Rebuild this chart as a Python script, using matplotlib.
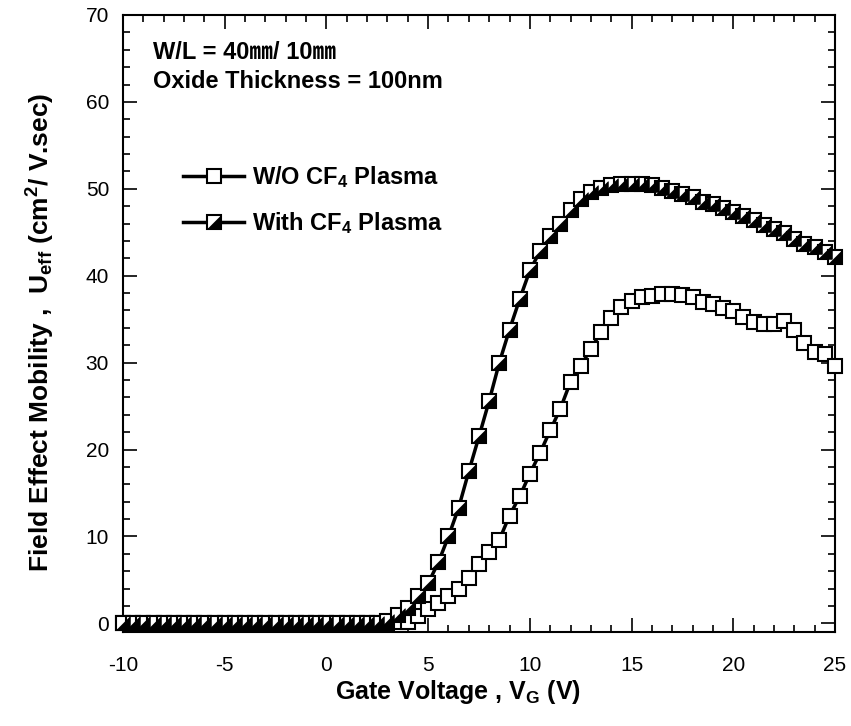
import numpy as np
import matplotlib
matplotlib.use('Agg')
import matplotlib.pyplot as plt
from matplotlib.legend_handler import HandlerTuple
from matplotlib.ticker import MultipleLocator

plt.rcParams['font.family'] = ['Liberation Sans', 'Noto Sans CJK KR', 'DejaVu Sans']
plt.rcParams['mathtext.fontset'] = 'custom'
plt.rcParams['mathtext.rm'] = 'Liberation Sans:bold'
plt.rcParams['mathtext.it'] = 'Liberation Sans:bold'
plt.rcParams['mathtext.bf'] = 'Liberation Sans:bold'
plt.rcParams['axes.unicode_minus'] = False

# gate voltage sweep (V)
gate_v = np.arange(-10, 25.01, 0.5)

# mobility without CF4 plasma (cm2/V.sec)
mob_wo = [0.0] * 26 + [
    0.0, 0.1, 0.2, 0.8, 1.6, 2.3, 3.1, 4.0, 5.2, 6.8,
    8.2, 9.6, 12.4, 14.6, 17.2, 19.6, 22.2, 24.7, 27.8, 29.6,
    31.6, 33.5, 35.1, 36.4, 37.1, 37.5, 37.7, 37.9, 37.9, 37.8,
    37.5, 37.0, 36.8, 36.3, 35.9, 35.3, 34.7, 34.4, 34.5, 34.8,
    33.8, 32.3, 31.2, 31.0, 29.6]

# mobility with CF4 plasma
mob_cf4 = [0.0] * 26 + [
    0.3, 0.9, 1.8, 3.1, 4.6, 7.0, 10.0, 13.3, 17.5, 21.5,
    25.6, 30.0, 33.8, 37.3, 40.6, 42.8, 44.6, 46.0, 47.6, 48.8,
    49.6, 50.1, 50.4, 50.6, 50.6, 50.5, 50.4, 50.1, 49.8, 49.4,
    49.1, 48.5, 48.2, 47.8, 47.3, 46.9, 46.4, 45.8, 45.4, 44.9,
    44.2, 43.7, 43.3, 42.7, 42.2]

half_tri = [(-1, -1), (1, -1), (1, 1), (-1, -1)]

fig = plt.figure(figsize=(8.51, 7.26), dpi=100)
ax = fig.add_axes([123 / 851, (726 - 632) / 726, 712 / 851, 617 / 726])

l1, = ax.plot(gate_v, mob_wo, color='k', lw=2.5, marker='s', ms=9.8,
              mfc='white', mec='k', mew=1.5, clip_on=False, zorder=3)
l2, = ax.plot(gate_v, mob_cf4, color='k', lw=2.5, marker='s', ms=9.8,
              mfc='white', mec='k', mew=1.5, clip_on=False, zorder=4)
t2, = ax.plot(gate_v, mob_cf4, ls='none', marker=half_tri, ms=9.8,
              mfc='k', mec='k', mew=0.5, clip_on=False, zorder=5)

ax.set_xlim(-10, 25)
ax.set_ylim(-1, 70)
ax.xaxis.set_major_locator(MultipleLocator(5))
ax.xaxis.set_minor_locator(MultipleLocator(1))
ax.yaxis.set_major_locator(MultipleLocator(10))
ax.yaxis.set_minor_locator(MultipleLocator(2))
ax.tick_params(which='both', direction='in', top=True, right=True, width=1.2)
ax.tick_params(which='major', length=10)
ax.tick_params(which='minor', length=5)
ax.tick_params(axis='x', labelsize=15, pad=17)
ax.tick_params(axis='y', labelsize=15, pad=10)
for s in ax.spines.values():
    s.set_linewidth(1.5)

ax.set_xlabel('Gate Voltage , V$_{\\mathrm{G}}$ (V)', fontsize=18, fontweight='bold')
ax.xaxis.set_label_coords(0.47, -0.075)
ax.set_ylabel('Field Effect Mobility ,  U$_{\\mathrm{eff}}$ (cm$^{\\mathrm{2}}$/ V.sec)',
              fontsize=19, fontweight='bold')
ax.yaxis.set_label_coords(-0.092, 0.486)

ax.text(0.042, 0.94, 'W/L = 40\u339c/ 10\u339c', transform=ax.transAxes,
        fontsize=17, fontweight='bold', va='center', ha='left')
ax.text(0.042, 0.893, 'Oxide Thickness = 100nm', transform=ax.transAxes,
        fontsize=17, fontweight='bold', va='center', ha='left')

ax.legend([l1, (l2, t2)], ['W/O CF$_4$ Plasma', 'With CF$_4$ Plasma'],
          handler_map={tuple: HandlerTuple(ndivide=1)},
          loc='upper left', bbox_to_anchor=(0.084, 0.758), frameon=False,
          borderpad=0, borderaxespad=0, numpoints=1, handlelength=2.6,
          labelspacing=0.83, handletextpad=0.35,
          prop={'size': 17, 'weight': 'bold'})

fig.savefig('out.png', dpi=100)
